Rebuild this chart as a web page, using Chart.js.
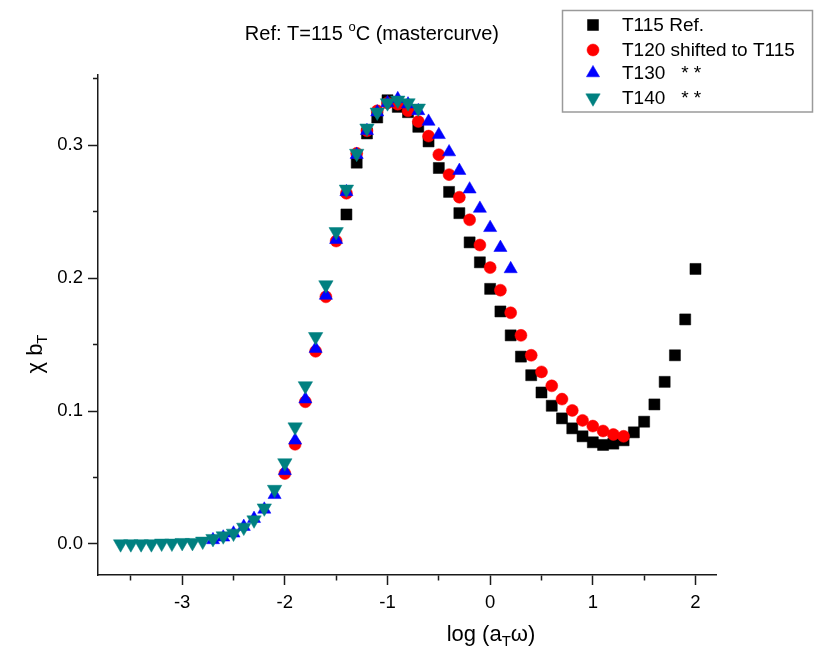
<!DOCTYPE html>
<html><head><meta charset="utf-8">
<script src="https://cdn.jsdelivr.net/npm/chart.js@4.4.0/dist/chart.umd.min.js"></script>
<style>html,body{margin:0;padding:0;background:#fff;}#wrap{width:814px;height:664px;}</style>
</head><body><div id="wrap"><canvas id="c" width="814" height="664"></canvas></div>
<script>
// ---- data ----
const xT115 = [-1.4,-1.3,-1.2,-1.1,-1.0,-0.9,-0.8,-0.7,-0.6,-0.5,-0.4,-0.3,-0.2,-0.1,0.0,0.1,0.2,0.3,0.4,0.5,0.6,0.7,0.8,0.9,1.0,1.1,1.2,1.3,1.4,1.5,1.6,1.7,1.8,1.9,2.0];
const yT115 = [0.248,0.287,0.309,0.321,0.334,0.329,0.325,0.314,0.303,0.283,0.265,0.249,0.227,0.212,0.192,0.175,0.157,0.141,0.127,0.114,0.104,0.0945,0.087,0.081,0.0765,0.0745,0.0755,0.078,0.084,0.092,0.105,0.122,0.142,0.169,0.207];

const xT120 = [-2.0,-1.9,-1.8,-1.7,-1.6,-1.5,-1.4,-1.3,-1.2,-1.1,-1.0,-0.9,-0.8,-0.7,-0.6,-0.5,-0.4,-0.3,-0.2,-0.1,0.0,0.1,0.2,0.3,0.4,0.5,0.6,0.7,0.8,0.9,1.0,1.1,1.2,1.3];
const yT120 = [0.053,0.075,0.107,0.145,0.186,0.228,0.264,0.294,0.311,0.326,0.332,0.331,0.326,0.318,0.307,0.293,0.278,0.261,0.244,0.225,0.208,0.191,0.174,0.157,0.142,0.1295,0.119,0.109,0.1005,0.093,0.0887,0.085,0.0824,0.081];

const xT130 = [-2.7,-2.6,-2.5,-2.4,-2.3,-2.2,-2.1,-2.0,-1.9,-1.8,-1.7,-1.6,-1.5,-1.4,-1.3,-1.2,-1.1,-1.0,-0.9,-0.8,-0.7,-0.6,-0.5,-0.4,-0.3,-0.2,-0.1,0.0,0.1,0.2];
const yT130 = [0.003,0.005,0.008,0.013,0.019,0.026,0.037,0.055,0.078,0.109,0.147,0.187,0.229,0.265,0.293,0.311,0.325,0.332,0.335,0.331,0.326,0.318,0.308,0.295,0.281,0.267,0.2525,0.238,0.223,0.207];

const xT140 = [-3.6,-3.5,-3.4,-3.3,-3.2,-3.1,-3.0,-2.9,-2.8,-2.7,-2.6,-2.5,-2.4,-2.3,-2.2,-2.1,-2.0,-1.9,-1.8,-1.7,-1.6,-1.5,-1.4,-1.3,-1.2,-1.1,-1.0,-0.9,-0.8,-0.7];
const yT140 = [0.0,0.0,0.0,0.0,0.0005,0.0005,0.001,0.001,0.002,0.004,0.006,0.008,0.0125,0.018,0.027,0.041,0.061,0.088,0.119,0.156,0.195,0.235,0.267,0.294,0.313,0.325,0.332,0.334,0.332,0.328];

const seriesNames = ['T115 Ref.', 'T120 shifted to T115', 'T130   * *', 'T140   * *'];
const xTicks = [-3.5,-3,-2.5,-2,-1.5,-1,-0.5,0,0.5,1,1.5,2];
const yTicks = [0,0.05,0.1,0.15,0.2,0.25,0.3,0.35];

const FONT = '"Liberation Sans", Arial, Helvetica, sans-serif';
const pts = (xs, ys) => xs.map((x, i) => ({x: x, y: ys[i]}));
const isMajorX = v => Math.abs(v - Math.round(v)) < 1e-9;
const isMajorY = v => Math.abs(v * 10 - Math.round(v * 10)) < 1e-6;

const datasets = [
  {label: seriesNames[0], data: pts(xT115, yT115), pointStyle: 'rect', pointRadius: 7.8, backgroundColor: '#000000', borderColor: '#000000', borderWidth: 0.5, order: 3},
  {label: seriesNames[1], data: pts(xT120, yT120), pointStyle: 'circle', pointRadius: 6, backgroundColor: '#ff0000', borderColor: '#ff0000', borderWidth: 0.5, order: 2},
  {label: seriesNames[2], data: pts(xT130, yT130), pointStyle: 'triangle', pointRadius: 7.6, backgroundColor: '#0000ff', borderColor: '#0000ff', borderWidth: 0.5, order: 1},
  {label: seriesNames[3], data: pts(xT140, yT140), pointStyle: 'triangle', pointRotation: 180, pointRadius: 8.3, backgroundColor: '#008080', borderColor: '#008080', borderWidth: 0.5, order: 0}
];
datasets.forEach(d => { d.showLine = false; d.pointHoverRadius = d.pointRadius; });

function drawMarker(ctx, d, x, y) {
  ctx.save();
  ctx.fillStyle = d.backgroundColor;
  ctx.strokeStyle = d.borderColor;
  ctx.lineWidth = d.borderWidth;
  if (Chart.helpers && Chart.helpers.drawPoint) {
    Chart.helpers.drawPoint(ctx, {pointStyle: d.pointStyle, radius: d.pointRadius, rotation: d.pointRotation || 0, borderWidth: d.borderWidth}, x, y);
  }
  ctx.restore();
}

const decor = {
  id: 'decor',
  afterDraw(chart) {
    const ctx = chart.ctx;
    ctx.save();
    ctx.fillStyle = '#000';
    ctx.textBaseline = 'alphabetic';
    // title with superscript
    const tf = '20px ' + FONT, sf = '13px ' + FONT;
    const p1 = 'Ref: T=115 ', p2 = 'o', p3 = 'C (mastercurve)';
    ctx.font = tf; const w1 = ctx.measureText(p1).width, w3 = ctx.measureText(p3).width;
    ctx.font = sf; const w2 = ctx.measureText(p2).width;
    let tx = 499 - (w1 + w2 + w3), ty = 40;
    ctx.font = tf; ctx.fillText(p1, tx, ty); tx += w1;
    ctx.font = sf; ctx.fillText(p2, tx, ty - 9); tx += w2;
    ctx.font = tf; ctx.fillText(p3, tx, ty);

    // x-axis title
    const af = '22px ' + FONT, subf = '15px ' + FONT;
    const q1 = 'log (a', q2 = 'T', q3 = '\u03c9)';
    ctx.font = af; const a1 = ctx.measureText(q1).width, a3 = ctx.measureText(q3).width;
    ctx.font = subf; const a2 = ctx.measureText(q2).width;
    let lx = 491 - (a1 + a2 + a3) / 2, ly = 641;
    ctx.font = af; ctx.fillText(q1, lx, ly); lx += a1;
    ctx.font = subf; ctx.fillText(q2, lx, ly + 5); lx += a2;
    ctx.font = af; ctx.fillText(q3, lx, ly);

    // y-axis title (rotated)
    ctx.save();
    ctx.translate(42, 354);
    ctx.rotate(-Math.PI / 2);
    const r1 = '\u03c7 b', r2 = 'T';
    ctx.font = af; const b1 = ctx.measureText(r1).width;
    ctx.font = subf; const b2 = ctx.measureText(r2).width;
    let rx = -(b1 + b2) / 2;
    ctx.font = af; ctx.fillText(r1, rx, 0); rx += b1;
    ctx.font = subf; ctx.fillText(r2, rx, 5);
    ctx.restore();

    // legend box
    ctx.strokeStyle = '#9a9a9a';
    ctx.lineWidth = 1.5;
    ctx.strokeRect(562.5, 10.5, 250, 101.5);
    const rows = [25, 50, 73, 98];
    ctx.font = '19px ' + FONT;
    ctx.textBaseline = 'middle';
    chart.data.datasets.forEach((d, i) => {
      drawMarker(ctx, d, 593, rows[i]);
      ctx.fillStyle = '#000';
      ctx.fillText(d.label, 622, rows[i] + 1);
    });
    ctx.restore();
  }
};

new Chart(document.getElementById('c'), {
  type: 'scatter',
  data: {datasets: datasets},
  options: {
    responsive: false,
    animation: false,
    devicePixelRatio: 1,
    layout: {padding: {left: 0, right: 98, top: 75, bottom: 0}},
    plugins: {legend: {display: false}, title: {display: false}, tooltip: {enabled: false}},
    events: [],
    scales: {
      x: {
        type: 'linear', position: 'bottom', min: -3.82, max: 2.2,
        afterBuildTicks: s => { s.ticks = xTicks.map(v => ({value: v})); },
        afterFit: s => { s.height = 89; },
        ticks: {
          autoSkip: false, maxRotation: 0, padding: 7, color: '#000',
          font: {family: FONT, size: 18.5},
          callback: v => isMajorX(v) ? String(Math.round(v)) : ''
        },
        grid: {
          drawOnChartArea: false, drawTicks: true, tickLength: 10, tickColor: '#1a1a1a', tickWidth: 1.5,
          tickBorderDash: c => (c.tick && isMajorX(c.tick.value)) ? [] : [5, 100]
        },
        border: {display: true, color: '#1a1a1a', width: 1.5}
      },
      y: {
        type: 'linear', position: 'left', min: -0.0234, max: 0.353,
        afterBuildTicks: s => { s.ticks = yTicks.map(v => ({value: v})); },
        afterFit: s => { s.width = 98; },
        ticks: {
          autoSkip: false, padding: 5, color: '#000',
          font: {family: FONT, size: 18.5},
          callback: v => isMajorY(v) ? v.toFixed(1) : ''
        },
        grid: {
          drawOnChartArea: false, drawTicks: true, tickLength: 10, tickColor: '#1a1a1a', tickWidth: 1.5,
          tickBorderDash: c => (c.tick && isMajorY(c.tick.value)) ? [] : [0, 5, 5, 100]
        },
        border: {display: true, color: '#1a1a1a', width: 1.5}
      }
    }
  },
  plugins: [decor]
});
</script>
</body></html>
